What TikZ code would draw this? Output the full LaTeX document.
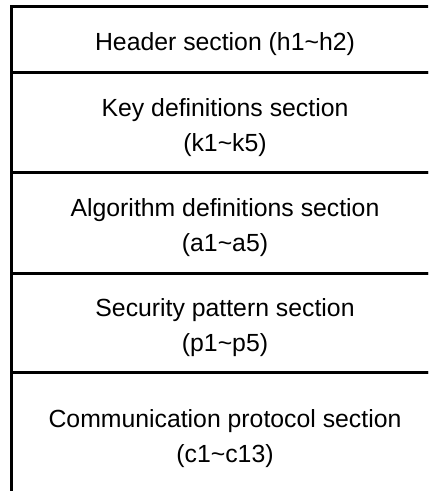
\documentclass[tikz,border=0pt]{standalone}
\usepackage{fontspec}
\setmainfont{Liberation Sans}
\usetikzlibrary{positioning}
\tikzset{
  secbox/.style={line width=1.5pt},
  seclabel/.style={align=center, inner sep=0pt, font=\fontsize{12.4}{17.5}\selectfont}
}
\begin{document}
\begin{tikzpicture}[x=0.5pt,y=-0.5pt]
    \useasboundingbox (0,0) rectangle (428,491);
    \clip (0,0) rectangle (428,491);
    % Sections
    \draw[secbox] (11,7) rectangle (439,73);
    \draw[secbox] (11,73) rectangle (439,173);
    \draw[secbox] (11,173) rectangle (439,273);
    \draw[secbox] (11,273) rectangle (439,372);
    \draw[secbox] (11,372) rectangle (439,520);
    % Labels
    \node[seclabel] (hdr) at (225,44.5) {Header section (h1\textasciitilde h2)};
    \node[seclabel] (key) at (225,128) {Key definitions section\\(k1\textasciitilde k5)};
    \node[seclabel] (alg) at (225,228) {Algorithm definitions section\\(a1\textasciitilde a5)};
    \node[seclabel] (pat) at (225,328) {Security pattern section\\(p1\textasciitilde p5)};
    \node[seclabel] (com) at (225,439) {Communication protocol section\\(c1\textasciitilde c13)};
\end{tikzpicture}
\end{document}
